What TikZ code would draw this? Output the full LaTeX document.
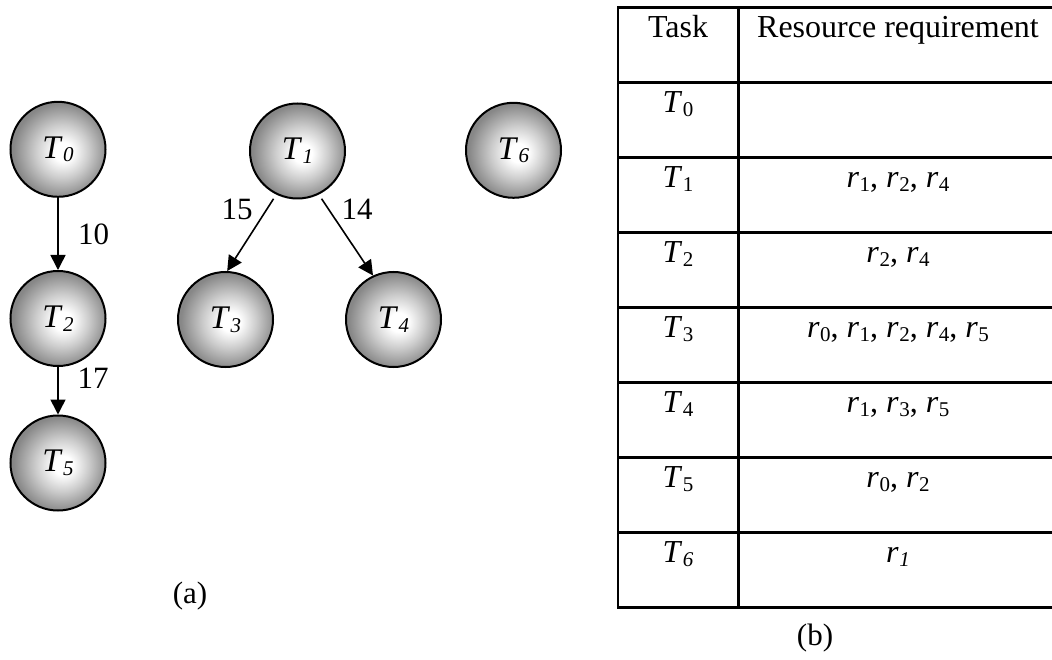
\documentclass[tikz,border=0pt]{standalone}
\usepackage{fontspec}
\setmainfont{Liberation Serif}
\usepackage{graphicx}
\usetikzlibrary{arrows.meta}
\pgfdeclareradialshading{ballshade}{\pgfpoint{3bp}{-1.5bp}}{color(0bp)=(white); color(5bp)=(white); color(14bp)=(black!20); color(25bp)=(black!47); color(50bp)=(black!47)}
\newcommand\sbi[1]{\kern0.5pt\raisebox{-0.12em}{\fontsize{21}{21}\selectfont\itshape #1}}
\newcommand\sbu[1]{\kern0.5pt\raisebox{-0.12em}{\fontsize{21}{21}\selectfont\upshape #1}}
\newcommand\tk[1]{\textit{T}\sbi{#1}}
\newcommand\tu[1]{\textit{T}\sbu{#1}}
\newcommand\ru[1]{\textit{r}\sbu{#1}}
\begin{document}
\begin{tikzpicture}[x=1pt,y=-1pt,
  task/.style={circle, draw, line width=2pt, minimum size=95pt, inner sep=0pt,
    shading=ballshade, font=\fontsize{33}{33}\selectfont},
  lab/.style={anchor=base, inner sep=0pt, font=\fontsize{31}{31}\selectfont},
  cell/.style={anchor=base, inner sep=0pt, font=\fontsize{32}{32}\selectfont},
  conn/.style={line width=1.6pt, -{Triangle[length=15pt,width=15pt]}},
  rule/.style={line width=2.2pt}]
\useasboundingbox (0,0) rectangle (1052,660);
% graph
\node[task] (T0) at (58,149.3) {\tk{0}};
\node[task] (T2) at (58,318.5) {\tk{2}};
\node[task] (T5) at (58,463) {\tk{5}};
\node[task] (T1) at (297.5,151) {\tk{1}};
\node[task] (T3) at (225.5,319.5) {\tk{3}};
\node[task] (T4) at (393.5,319.5) {\tk{4}};
\node[task] (T6) at (513.5,150.3) {\tk{6}};
\draw[conn] (T0) -- (T2);
\draw[conn] (T2) -- (T5);
\draw[conn, shorten <=5pt] (T1.244) -- (T3.88);
\draw[conn, shorten <=5pt] (T1.296) -- (T4.115);
\node[lab] (w10) at (93.7,245) {10};
\node[lab] (w17) at (93,388) {17};
\node[lab] (w15) at (237,220) {15};
\node[lab] (w14) at (357,220) {14};
\node[lab] (capa) at (190,603) {(a)};
% table
\foreach \y in {7.5,82.5,157.5,232.5,307.5,382.5,457.5,532.5,607.5}
  \draw[rule] (617,\y) -- (1052,\y);
\draw[rule] (618,7.5) -- (618,607.5);
\draw[rule] (738.5,7.5) -- (738.5,607.5);
\node[cell] (h1) at (678,37.5) {Task};
\node[cell] (h2) at (898,37.5) {Resource requirement};
\node[cell] (c0) at (678,112.5) {\tu{0}};
\node[cell] (c1) at (678,187.5) {\tu{1}};
\node[cell] (d1) at (898,187.5) {\ru{1}, \ru{2}, \ru{4}};
\node[cell] (c2) at (678,262.5) {\tu{2}};
\node[cell] (d2) at (898,262.5) {\ru{2}, \ru{4}};
\node[cell] (c3) at (678,337.5) {\tu{3}};
\node[cell] (d3) at (898,337.5) {\ru{0}, \ru{1}, \ru{2}, \ru{4}, \ru{5}};
\node[cell] (c4) at (678,412.5) {\tu{4}};
\node[cell] (d4) at (898,412.5) {\ru{1}, \ru{3}, \ru{5}};
\node[cell] (c5) at (678,487.5) {\tu{5}};
\node[cell] (d5) at (898,487.5) {\ru{0}, \ru{2}};
\node[cell] (c6) at (678,562.5) {\tk{6}};
\node[cell] (d6) at (898,562.5) {\textit{r}\sbi{1}};
\node[lab] (capb) at (815,645) {(b)};
\end{tikzpicture}
\end{document}
